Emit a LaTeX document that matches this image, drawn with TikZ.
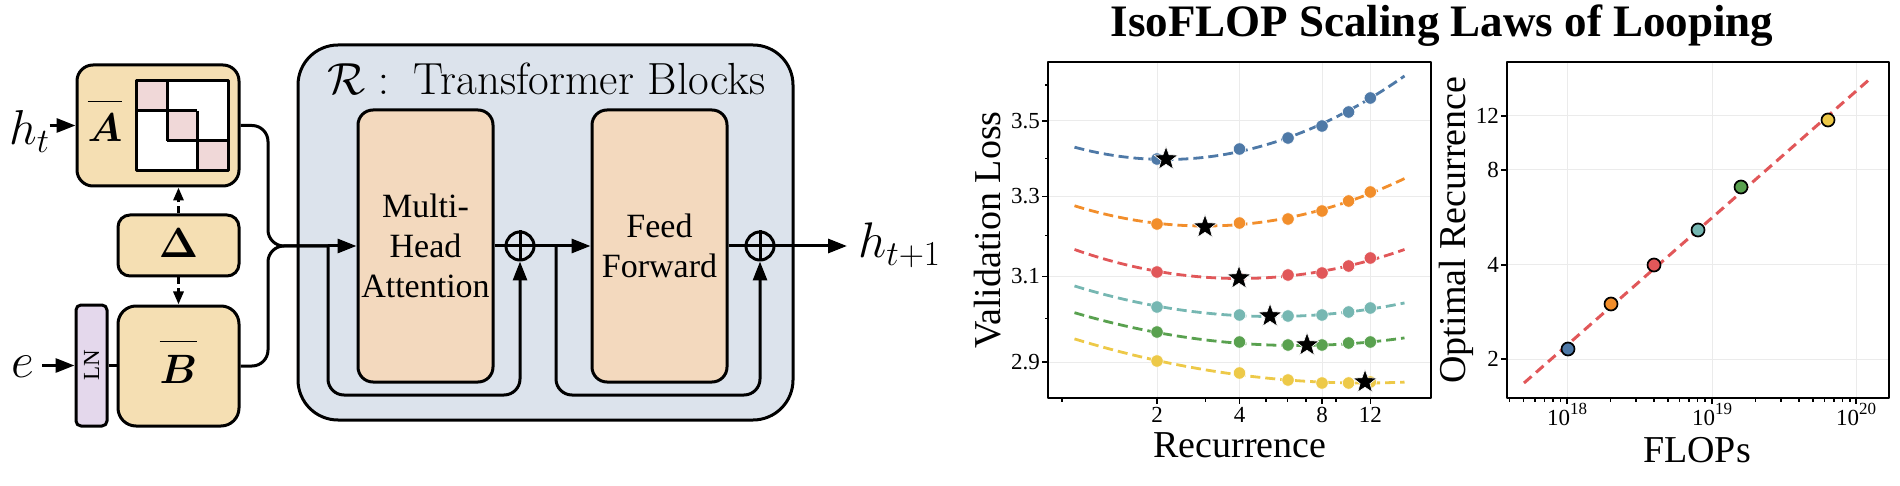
\RequirePackage{fix-cm}
\documentclass[tikz,border=0pt]{standalone}
\usepackage{fontspec}
\usepackage{amsmath}
\usepackage{bm}
\newfontfamily\timesfont{Liberation Serif}
\usetikzlibrary{shapes.geometric,arrows.meta}
\definecolor{boxY}{HTML}{F5DFB3}
\definecolor{boxP}{HTML}{F3D9BE}
\definecolor{boxR}{HTML}{DCE3EC}
\definecolor{boxL}{HTML}{E4D8EC}
\definecolor{cellP}{HTML}{F0D8D8}
\definecolor{gridc}{HTML}{EBEBEB}
\definecolor{cB}{HTML}{4E79A7}
\definecolor{cO}{HTML}{F28E2B}
\definecolor{cR}{HTML}{E15759}
\definecolor{cT}{HTML}{76B7B2}
\definecolor{cG}{HTML}{59A14F}
\definecolor{cY}{HTML}{EDC948}
\newcommand{\tenpow}[1]{10\raisebox{11pt}{\fontsize{17}{17}\selectfont #1}}
\begin{document}
\begin{tikzpicture}[x=1pt,y=-1pt,line join=round,
  blk/.style={draw=black,line width=3pt,inner sep=0pt},
  conn/.style={line width=3pt},
  arr/.style={conn,-{Triangle[length=19pt,width=14pt]}},
  darr/.style={line width=3pt,dash pattern=on 7pt off 4pt,-{Triangle[length=13pt,width=10pt]}},
  oplus/.style={circle,draw=black,line width=3pt,minimum size=28pt,inner sep=0pt},
  gridl/.style={gridc,line width=1pt},
  tck/.style={line width=1.3pt},
  lossc/.style={line width=2.8pt,dash pattern=on 10pt off 5pt},
  starmark/.style={star,star points=5,star point ratio=2.4,minimum size=25pt,inner sep=0pt,fill=black,draw=white,line width=0.6pt},
  tlab/.style={inner sep=0pt,font=\timesfont\fontsize{23}{23}\selectfont},
  alab/.style={inner sep=0pt,font=\timesfont\fontsize{38}{38}\selectfont}]
\useasboundingbox (0,0) rectangle (1900,486);

% ---------------- left diagram ----------------
\node[blk,fill=boxR,rounded corners=40pt,minimum width=495pt,minimum height=375pt] (R) at (545.5,232.5) {};
\node[anchor=base west,inner sep=0pt] (Rt) at (327,95) {\fontsize{45}{54}\selectfont$\mathcal{R}:$\hspace{0.55em}Transformer Blocks};

\node[blk,fill=boxY,rounded corners=16pt,minimum width=162pt,minimum height=121pt] (A) at (158,125.5) {};
\fill[white] (136,81) rectangle (228,171);
\fill[cellP] (136,81) rectangle (167,111);
\fill[cellP] (167,111) rectangle (197,141);
\fill[cellP] (197,141) rectangle (228,171);
\draw[line width=3pt] (136,81) rectangle (228,171);
\draw[line width=3pt] (167,81) -- (167,141);
\draw[line width=3pt] (136,111) -- (197,111);
\draw[line width=3pt] (197,111) -- (197,171);
\draw[line width=3pt] (167,141) -- (228,141);
\node[anchor=base,inner sep=0pt] (Al) at (105,142) {\fontsize{40}{48}\selectfont$\overline{\bm{A}\rule{0pt}{0.93em}}$};

\node[blk,fill=boxY,rounded corners=12pt,minimum width=121pt,minimum height=61pt] (D) at (178.5,245.5) {};
\node[anchor=base,inner sep=0pt] (Dl) at (178.5,258) {\fontsize{42}{48}\selectfont$\bm{\Delta}$};

\node[blk,fill=boxY,rounded corners=18pt,minimum width=121pt,minimum height=120pt] (B) at (178.5,366) {};
\node[anchor=base,inner sep=0pt] (Bl) at (178.5,383) {\fontsize{41}{48}\selectfont$\overline{\bm{B}\rule{0pt}{0.93em}}$};

\node[blk,fill=boxL,rounded corners=5pt,minimum width=31pt,minimum height=121pt] (LN) at (91.5,365.5) {};
\node[rotate=90,inner sep=0pt] (LNt) at (LN.center) {\timesfont\fontsize{23}{23}\selectfont LN};

\node[anchor=base west,inner sep=0pt] (ht) at (9,145) {\fontsize{49}{49}\selectfont$h_t$};
\node[anchor=base east,inner sep=0pt] (e) at (34,377) {\fontsize{50}{50}\selectfont$e$};

\draw[arr] (ht.east |- A.west) -- (A.west);
\draw[arr] ([xshift=8pt]e.east |- LN.west) -- (LN.west);
\draw[conn] (LN.east) -- (LN.east -| B.west);
\draw[darr] (D.north) -- (D.north |- A.south);
\draw[darr] (D.south) -- (D.south |- B.north);

\node[blk,fill=boxP,rounded corners=15pt,minimum width=135pt,minimum height=272pt,align=center,font=\timesfont\fontsize{34}{40}\selectfont] (MHA) at (425.5,246) {Multi-\\Head\\Attention};
\node[blk,fill=boxP,rounded corners=15pt,minimum width=135pt,minimum height=272pt,align=center,font=\timesfont\fontsize{34}{40}\selectfont] (FF) at (659.5,246) {Feed\\Forward};
\node[oplus] (c1) at (520,246) {};
\node[oplus] (c2) at (760,246) {};
\draw[line width=3pt] (c1.north) -- (c1.south) (c1.west) -- (c1.east);
\draw[line width=3pt] (c2.north) -- (c2.south) (c2.west) -- (c2.east);

\coordinate (join) at (268,246);
\coordinate (s1) at (328,246);
\coordinate (s2) at (556,246);
\draw[conn,rounded corners=16pt] (A.east) -- (A.east -| join) -- (join) -- (s1);
\draw[conn,rounded corners=16pt] (B.east) -- (B.east -| join) -- (join) -- (s1);
\draw[arr] (s1) -- (MHA.west);
\draw[arr,rounded corners=16pt] (s1) -- ++(0,149) -| (c1.south);
\draw[conn] (MHA.east) -- (c1.west);
\draw[arr] (c1.east) -- (FF.west);
\draw[arr,rounded corners=16pt] (s2) -- ++(0,149) -| (c2.south);
\draw[conn] (FF.east) -- (c2.west);
\node[anchor=base west,inner sep=0pt] (hout) at (858,258) {\fontsize{50}{50}\selectfont$h_{t+1}$};
\draw[arr] (c2.east) -- ([xshift=-11pt]hout.west |- c2.east);

% ---------------- title ----------------
\node[anchor=base,inner sep=0pt,font=\timesfont\bfseries\fontsize{45}{54}\selectfont] (title) at (1442,37) {IsoFLOP Scaling Laws of Looping};

% ---------------- left plot ----------------
\foreach \gx in {1157,1239.5,1322,1370.3} \draw[gridl] (\gx,62) -- (\gx,398);
\foreach \gy in {121,196.4,276.5,362} \draw[gridl] (1048,\gy) -- (1431,\gy);
\foreach \col/\yz/\uz/\kk in {cB/159.5/1.11/10, cO/226/1.58/8.1, cR/278.5/2.0/7.25, cT/316.5/2.4/5.3, cG/345.5/2.7/4.5, cY/383/3.5/3.6}
  \draw[lossc,color=\col] plot[domain=0:4,samples=60,variable=\u] ({1074.5+82.5*\u},{\yz-\kk*(\u-\uz)*(\u-\uz)});
\foreach \col/\ya/\yb/\yc/\yd/\ye/\yf in {cB/159/149/138/126/112/98, cO/224/223/219/211/201/192, cR/272/278/275/273/266/258, cT/307/315/316/315/312/308, cG/332/342/345/345/343/342, cY/361/373/380/383/383/382}
  {\foreach \xx/\yy in {1157/\ya,1239.5/\yb,1288/\yc,1322/\yd,1348.6/\ye,1370.3/\yf}
    \filldraw[fill=\col,draw=white,line width=0.6pt] (\xx,\yy) circle[radius=6.2pt];}
\foreach \sx/\sy [count=\i] in {1166/159, 1205/227, 1239/278, 1270/316, 1307/345, 1365/382}
  \node[starmark] (st\i) at (\sx,\sy) {};
\draw[line width=2.8pt] (1048,62) rectangle (1431,398);
\foreach \tx/\tl [count=\i] in {1157/2,1239.5/4,1322/8,1370.3/12}
  {\draw[tck] (\tx,398) -- (\tx,404);
   \node[tlab,anchor=base] (lx\i) at (\tx,422) {\tl};}
\foreach \tx in {1062,1205.3,1266.1,1287.8,1306.1,1336} \draw[tck] (\tx,398) -- (\tx,401.5);
\foreach \ty/\tl [count=\i] in {121/3.5,196.4/3.3,276.5/3.1,362/2.9}
  {\draw[tck] (1048,\ty) -- (1042,\ty);
   \node[tlab,anchor=east] (ly\i) at (1040,\ty) {\tl};}
\foreach \ty in {85,158.2,235.8,318.5} \draw[tck] (1048,\ty) -- (1044.5,\ty);
\node[alab,rotate=90,anchor=base] (vl) at (1000,230) {Validation Loss};
\node[alab,anchor=base] (rl) at (1240,457) {Recurrence};

% ---------------- right plot ----------------
\foreach \gx in {1567,1712,1856} \draw[gridl] (\gx,62) -- (\gx,398);
\foreach \gy in {116,170,265,359} \draw[gridl] (1507,\gy) -- (1889,\gy);
\draw[cR,line width=3pt,dash pattern=on 10pt off 6pt] (1524,383) -- (1871,78);
\foreach \col/\px/\py in {cB/1568/349, cO/1611/304, cR/1654/265, cT/1698/230, cG/1741/187, cY/1828/120}
  \filldraw[fill=\col,draw=black,line width=1.7pt] (\px,\py) circle[radius=6.5pt];
\draw[line width=2.8pt] (1507,62) rectangle (1889,398);
\foreach \tx/\tl [count=\i] in {1567/18,1712/19,1856/20}
  {\draw[tck] (\tx,398) -- (\tx,404);
   \node[tlab,anchor=base] (fx\i) at (\tx,425) {\tenpow{\tl}};}
\foreach \k in {4,...,9}
  {\pgfmathsetmacro\xx{1567+144.5*log10(\k/10)}\draw[tck] (\xx,398) -- (\xx,401.5);}
\foreach \k in {2,...,9}
  {\pgfmathsetmacro\xx{1567+144.5*log10(\k)}\draw[tck] (\xx,398) -- (\xx,401.5);
   \pgfmathsetmacro\xy{1712+144.5*log10(\k)}\draw[tck] (\xy,398) -- (\xy,401.5);}
\foreach \ty/\tl [count=\i] in {116/12,170/8,265/4,359/2}
  {\draw[tck] (1507,\ty) -- (1501,\ty);
   \node[tlab,anchor=east] (fy\i) at (1499,\ty) {\tl};}
\node[alab,rotate=90,anchor=base] (orl) at (1465,230) {Optimal Recurrence};
\node[alab,anchor=base] (fl) at (1697,462) {FLOPs};
\end{tikzpicture}
\end{document}
